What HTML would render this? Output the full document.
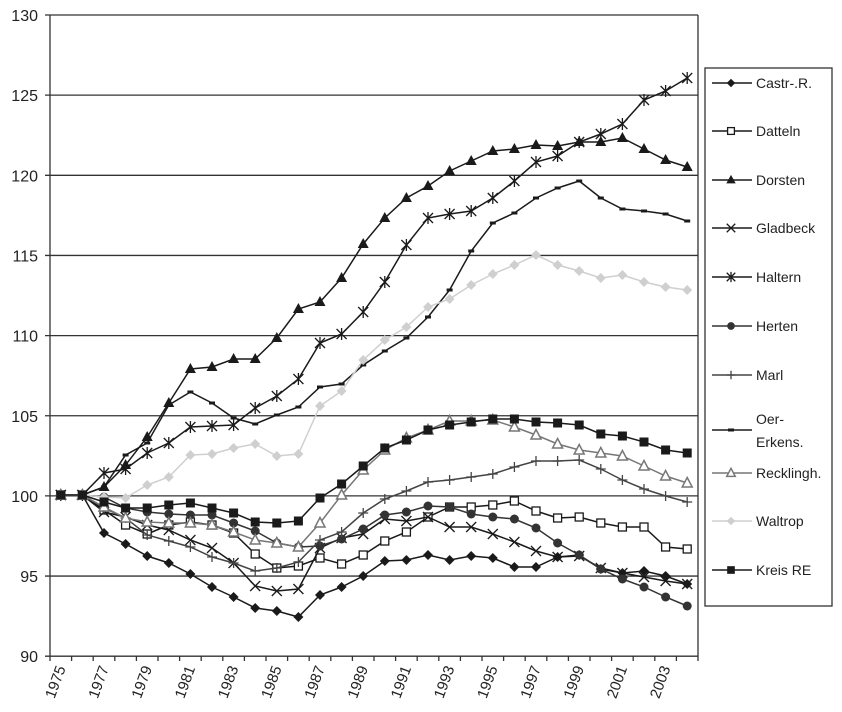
<!DOCTYPE html>
<html><head><meta charset="utf-8"><style>
html,body{margin:0;padding:0;background:#fff;}
svg{display:block;font-family:"Liberation Sans",sans-serif;}
</style></head><body>
<svg id="c" width="842" height="712" viewBox="0 0 842 712" xmlns="http://www.w3.org/2000/svg">
<rect width="842" height="712" fill="#fff"/>
<g id="grid" stroke="#333" stroke-width="1.3"></g>
<g id="series"></g>
<g id="lab" font-size="16" fill="#222"></g>
<rect x="705" y="68" width="127" height="538" fill="#fff" stroke="#333" stroke-width="1.3"/>
<g id="leg" font-size="14" fill="#222"></g>
</svg>
<script>
var NS="http://www.w3.org/2000/svg";
function el(p,t,a,txt){var e=document.createElementNS(NS,t);for(var k in a)e.setAttribute(k,a[k]);if(txt!==undefined)e.textContent=txt;p.appendChild(e);return e;}
var grid=document.getElementById('grid'),ser=document.getElementById('series'),lab=document.getElementById('lab'),leg=document.getElementById('leg');
function Y(v){return 15+(130-v)*16.03;}
for(var v=90;v<=130;v+=5){var y=Y(v);el(grid,'line',{x1:45,y1:y,x2:(v==90?698:698),y2:y});el(lab,'text',{x:38,y:y+6,'text-anchor':'end'},v);}
el(grid,'line',{x1:50,y1:15,x2:50,y2:656});
el(grid,'line',{x1:698,y1:15,x2:698,y2:656});
for(var i=0;i<=30;i++){var x=50+i*21.6;el(grid,'line',{x1:x,y1:656,x2:x,y2:661});}
for(var yr=1975;yr<=2003;yr+=2){var x=60.8+(yr-1975)*21.6+5;el(lab,'text',{x:0,y:0,'font-size':15,'text-anchor':'end',transform:'translate('+x+',668) rotate(-70)'},yr);}
function X(i){return 60.8+i*21.6;}
var S=[
{n:'Castr-.R.',c:'#1a1a1a',m:'diamond',d:[495,495,533,544,556,563,574,587,597,608,611,617,595,587,576,561,560,555,560,556,558,567,567,557,555,569,573,571,576,584]},
{n:'Datteln',c:'#1a1a1a',m:'osq',d:[495,495,510,525,534,525,522,525,533,554,568,566,558,564,555,541,532,517,507,507,505,501,511,518,517,523,527,527,547,549]},
{n:'Dorsten',c:'#1a1a1a',m:'tri',d:[495,495,487,465,437,403,369,367,359,359,338,309,302,278,244,218,198,186,171,161,151,149,145,146,142,142,138,149,160,167]},
{n:'Gladbeck',c:'#1a1a1a',m:'x',d:[495,495,512,517,525,530,540,548,563,586,591,589,548,538,534,519,521,517,527,527,534,542,551,557,556,568,573,577,581,584]},
{n:'Haltern',c:'#1a1a1a',m:'ast',d:[495,495,473,469,453,443,427,426,425,408,396,379,343,334,312,282,245,218,214,211,198,181,162,156,142,134,124,100,91,78]},
{n:'Herten',c:'#333',m:'circ',d:[495,495,497,508,512,514,515,515,523,531,543,547,546,539,529,515,512,506,507,514,517,519,528,543,555,569,579,587,597,606]},
{n:'Marl',c:'#444',m:'plus',d:[495,495,508,518,535,541,547,557,563,571,568,562,540,532,513,499,491,482,480,477,474,467,461,461,460,469,480,489,496,502]},
{n:'Oer-|Erkens.',c:'#1a1a1a',m:'dash',d:[495,495,487,455,443,405,392,403,418,424,415,407,387,384,365,351,338,317,290,251,223,213,198,188,181,198,209,211,214,221]},
{n:'Recklingh.',c:'#777',m:'otri',d:[495,495,507,518,522,523,523,525,532,540,543,547,523,495,470,450,438,430,421,421,420,427,435,444,450,453,456,466,476,483]},
{n:'Waltrop',c:'#cfcfcf',m:'diamond',d:[495,495,497,498,485,477,455,454,448,444,456,454,406,391,360,340,327,307,299,285,274,265,255,265,271,278,275,282,287,290]},
{n:'Kreis RE',c:'#1a1a1a',m:'sq',d:[495,495,502,508,508,505,503,508,513,522,523,521,498,484,466,448,440,430,425,422,419,419,422,423,425,434,436,442,450,453]}
];
function marker(g,m,x,y,c,s){s=s||1;
 if(m=='diamond')el(g,'polygon',{points:(x)+','+(y-5*s)+' '+(x+5*s)+','+y+' '+x+','+(y+5*s)+' '+(x-5*s)+','+y,fill:c});
 else if(m=='osq')el(g,'rect',{x:x-4*s,y:y-4*s,width:8*s,height:8*s,fill:'#fff',stroke:c,'stroke-width':1.3});
 else if(m=='sq')el(g,'rect',{x:x-4.5*s,y:y-4.5*s,width:9*s,height:9*s,fill:c});
 else if(m=='tri')el(g,'polygon',{points:x+','+(y-6*s)+' '+(x+5.5*s)+','+(y+4*s)+' '+(x-5.5*s)+','+(y+4*s),fill:c});
 else if(m=='otri')el(g,'polygon',{points:x+','+(y-5.5*s)+' '+(x+5*s)+','+(y+4*s)+' '+(x-5*s)+','+(y+4*s),fill:'#fff',stroke:c,'stroke-width':1.5});
 else if(m=='circ')el(g,'circle',{cx:x,cy:y,r:4.5*s,fill:c});
 else if(m=='x'){el(g,'path',{d:'M'+(x-5*s)+' '+(y-5*s)+'L'+(x+5*s)+' '+(y+5*s)+'M'+(x+5*s)+' '+(y-5*s)+'L'+(x-5*s)+' '+(y+5*s),stroke:c,'stroke-width':1.3});}
 else if(m=='ast'){el(g,'path',{d:'M'+(x-5*s)+' '+(y-5*s)+'L'+(x+5*s)+' '+(y+5*s)+'M'+(x+5*s)+' '+(y-5*s)+'L'+(x-5*s)+' '+(y+5*s)+'M'+x+' '+(y-6*s)+'L'+x+' '+(y+6*s),stroke:c,'stroke-width':1.3});}
 else if(m=='plus'){el(g,'path',{d:'M'+(x-5*s)+' '+y+'L'+(x+5*s)+' '+y+'M'+x+' '+(y-5*s)+'L'+x+' '+(y+5*s),stroke:c,'stroke-width':1.3});}
 else if(m=='dash')el(g,'rect',{x:x-3,y:y-1.5,width:6,height:3,fill:c});
}
S.forEach(function(s){
 var g=el(ser,'g',{});
 var pts=s.d.map(function(y,i){return X(i).toFixed(1)+','+y;}).join(' ');
 el(g,'polyline',{points:pts,fill:'none',stroke:s.c,'stroke-width':1.5});
 s.d.forEach(function(y,i){marker(g,s.m,X(i),y,s.c);});
});
var ly=[83,131,180,228,277,326,375,418,473,521,570];
S.forEach(function(s,k){
 var y=ly[k];
 var g=el(leg,'g',{});
 var yl=(k==7)?430:y;
 el(g,'line',{x1:712,y1:yl,x2:752,y2:yl,stroke:s.c,'stroke-width':1.5});
 marker(g,s.m,731,yl,s.c,0.85);
 var parts=s.n.split('|');
 if(parts.length>1){el(leg,'text',{x:756,y:424},parts[0]);el(leg,'text',{x:756,y:447},parts[1]);}
 else el(leg,'text',{x:756,y:y+5},s.n);
});
</script>
</body></html>
